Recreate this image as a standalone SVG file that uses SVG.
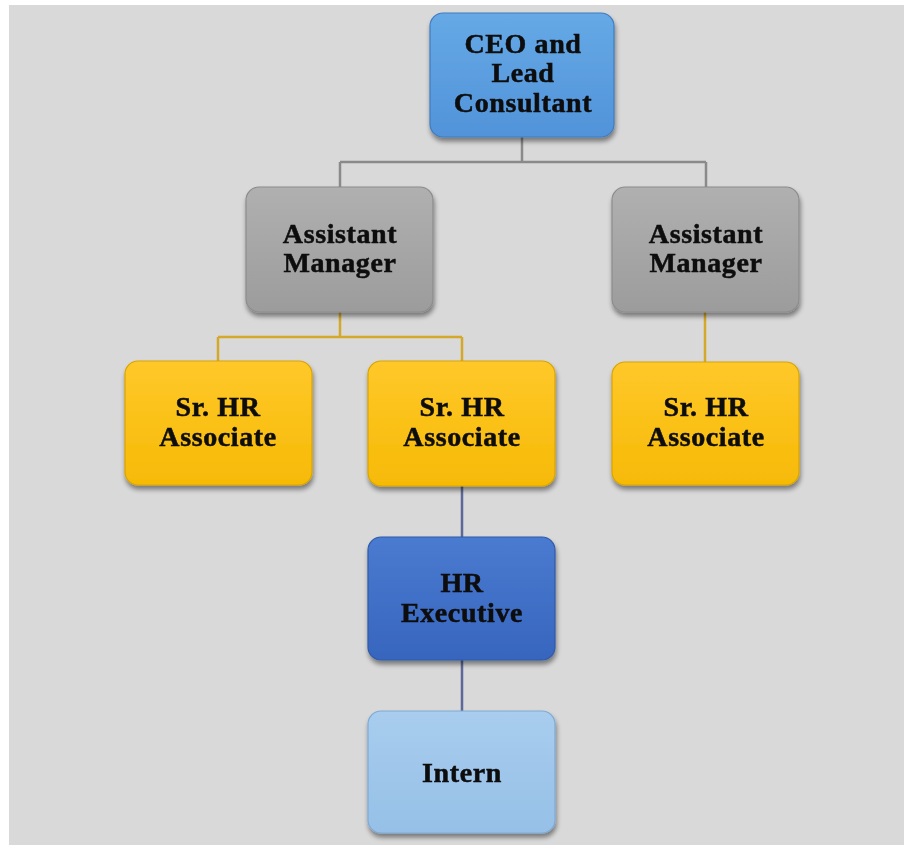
<svg xmlns="http://www.w3.org/2000/svg" width="904" height="845" viewBox="0 0 904 845">
<defs>
<style>
.lbl{font-family:"Liberation Serif","Times New Roman",serif;font-weight:bold;font-size:28px;letter-spacing:0.6px;fill:#0d0d0d;stroke:#0d0d0d;stroke-width:0.5px;text-anchor:middle}
.box{stroke-width:1.2}
.c-gray{stroke:#8a8a8a;stroke-width:2.5;fill:none}
.c-yel{stroke:#d4a82a;stroke-width:2.5;fill:none}
.c-blu{stroke:#5d6a99;stroke-width:2.5;fill:none}
</style>
<linearGradient id="gBlue" x1="0" y1="0" x2="0" y2="1">
<stop offset="0" stop-color="#66a9e6"/><stop offset="1" stop-color="#5193d9"/>
</linearGradient>
<linearGradient id="gGray" x1="0" y1="0" x2="0" y2="1">
<stop offset="0" stop-color="#b0b0b0"/><stop offset="1" stop-color="#9c9c9c"/>
</linearGradient>
<linearGradient id="gYel" x1="0" y1="0" x2="0" y2="1">
<stop offset="0" stop-color="#ffc82a"/><stop offset="1" stop-color="#f6ba05"/>
</linearGradient>
<linearGradient id="gDark" x1="0" y1="0" x2="0" y2="1">
<stop offset="0" stop-color="#4a7bd0"/><stop offset="1" stop-color="#3765be"/>
</linearGradient>
<linearGradient id="gLight" x1="0" y1="0" x2="0" y2="1">
<stop offset="0" stop-color="#a8cdee"/><stop offset="1" stop-color="#96c0e7"/>
</linearGradient>
<filter id="sh" x="-10%" y="-10%" width="125%" height="130%">
<feGaussianBlur in="SourceAlpha" stdDeviation="2.5"/>
<feOffset dx="1" dy="4" result="b"/>
<feComponentTransfer><feFuncA type="linear" slope="0.45"/></feComponentTransfer>
<feMerge><feMergeNode/><feMergeNode in="SourceGraphic"/></feMerge>
</filter>
</defs>
<rect x="0" y="0" width="904" height="845" fill="#ffffff"/>
<rect x="9" y="5" width="895" height="840" fill="#d9d9d9"/>

<g id="connectors">
<path class="c-gray" d="M522 137 V162 M340 162 H706 M340 162 V187 M706 162 V187"/>
<path class="c-yel" d="M340 312 V337 M218 337 H462 M218 337 V361 M462 337 V361 M705 312 V362"/>
<path class="c-blu" d="M462 486 V537 M462 660 V711"/>
</g>

<g id="ceo" filter="url(#sh)">
<rect class="box" x="430" y="13" width="184" height="124" rx="13" fill="url(#gBlue)" stroke="#3f7cc0"/>
<text class="lbl" x="523" y="53">CEO and</text>
<text class="lbl" x="523" y="82">Lead</text>
<text class="lbl" x="523" y="112">Consultant</text>
</g>

<g id="am1" filter="url(#sh)">
<rect class="box" x="246" y="187" width="187" height="125" rx="13" fill="url(#gGray)" stroke="#8c8c8c"/>
<text class="lbl" x="340" y="243">Assistant</text>
<text class="lbl" x="340" y="272">Manager</text>
</g>

<g id="am2" filter="url(#sh)">
<rect class="box" x="612" y="187" width="187" height="125" rx="13" fill="url(#gGray)" stroke="#8c8c8c"/>
<text class="lbl" x="706" y="243">Assistant</text>
<text class="lbl" x="706" y="272">Manager</text>
</g>

<g id="sr1" filter="url(#sh)">
<rect class="box" x="125" y="361" width="187" height="124" rx="13" fill="url(#gYel)" stroke="#d9a400"/>
<text class="lbl" x="218" y="416">Sr. HR</text>
<text class="lbl" x="218" y="446">Associate</text>
</g>

<g id="sr2" filter="url(#sh)">
<rect class="box" x="368" y="361" width="187" height="125" rx="13" fill="url(#gYel)" stroke="#d9a400"/>
<text class="lbl" x="462" y="416">Sr. HR</text>
<text class="lbl" x="462" y="446">Associate</text>
</g>

<g id="sr3" filter="url(#sh)">
<rect class="box" x="612" y="362" width="187" height="123" rx="13" fill="url(#gYel)" stroke="#d9a400"/>
<text class="lbl" x="706" y="416">Sr. HR</text>
<text class="lbl" x="706" y="446">Associate</text>
</g>

<g id="hrexec" filter="url(#sh)">
<rect class="box" x="368" y="537" width="187" height="123" rx="13" fill="url(#gDark)" stroke="#2f5aa8"/>
<text class="lbl" x="462" y="592">HR</text>
<text class="lbl" x="462" y="622">Executive</text>
</g>

<g id="intern" filter="url(#sh)">
<rect class="box" x="368" y="711" width="187" height="122" rx="13" fill="url(#gLight)" stroke="#7fa9d4"/>
<text class="lbl" x="462" y="782">Intern</text>
</g>
</svg>
